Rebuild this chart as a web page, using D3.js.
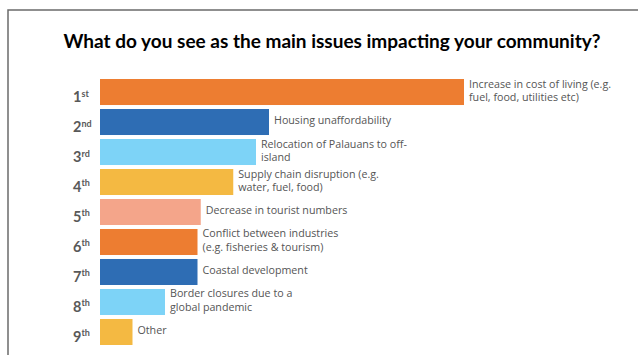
<!DOCTYPE html>
<html>
<head>
<meta charset="utf-8">
<script src="https://cdn.jsdelivr.net/npm/d3@7"></script>
<style>
  html, body { margin: 0; padding: 0; background: #fff; }
  svg { display: block; }
</style>
</head>
<body>
<svg id="chart" width="638" height="355"></svg>
<script>
const title = "What do you see as the main issues impacting your community?";
const ranks = ["1", "2", "3", "4", "5", "6", "7", "8", "9"];
const suffixes = ["st", "nd", "rd", "th", "th", "th", "th", "th", "th"];
const issues = [
  ["Increase in cost of living (e.g.", "fuel, food, utilities etc)"],
  ["Housing unaffordability"],
  ["Relocation of Palauans to off-", "island"],
  ["Supply chain disruption (e.g.", "water, fuel, food)"],
  ["Decrease in tourist numbers"],
  ["Conflict between industries", "(e.g. fisheries & tourism)"],
  ["Coastal development"],
  ["Border closures due to a", "global pandemic"],
  ["Other"]
];
const values = [112, 52, 48, 41, 31, 30, 30, 20, 10];
const colors = ["#ED7D31", "#2E6DB4", "#7DD3F7", "#F4B942", "#F4A58A", "#ED7D31", "#2E6DB4", "#7DD3F7", "#F4B942"];

const svg = d3.select("#chart");

// frame
svg.append("path")
  .attr("d", "M8,355 L8,10 L638,10")
  .attr("fill", "none")
  .attr("stroke", "#6b6b6b")
  .attr("stroke-width", 1.5);

svg.append("text")
  .attr("x", 332).attr("y", 48)
  .attr("text-anchor", "middle")
  .attr("font-family", "Lato, 'Open Sans', sans-serif")
  .attr("font-weight", "bold")
  .attr("font-size", 19)
  .attr("fill", "#000")
  .text(title);

const idx = d3.range(values.length);
const x = d3.scaleLinear().domain([0, d3.max(values)]).range([100, 464]);
const y = d3.scaleBand().domain(idx).range([77, 347]).paddingInner(0.133).paddingOuter(0.067);

const g = svg.append("g");
g.selectAll("rect").data(idx).join("rect")
  .attr("x", x(0))
  .attr("y", i => y(i))
  .attr("width", i => x(values[i]) - x(0))
  .attr("height", y.bandwidth())
  .attr("fill", i => colors[i]);

// rank labels
const rl = g.selectAll("text.rank").data(idx).join("text")
  .attr("class", "rank")
  .attr("x", 73)
  .attr("y", i => y(i) + 23)
  .attr("font-family", "Lato, 'Open Sans', sans-serif")
  .attr("font-weight", "bold")
  .attr("font-size", 14.5)
  .attr("fill", "#595959");
rl.append("tspan").text(i => ranks[i]);
rl.append("tspan").attr("dy", -5.5).attr("font-size", 9).text(i => suffixes[i]);

// issue labels (one text element per line)
const lines = [];
idx.forEach(i => issues[i].forEach((t, k) => lines.push({i, k, n: issues[i].length, t})));
g.selectAll("text.issue").data(lines).join("text")
  .attr("class", "issue")
  .attr("x", d => x(values[d.i]) + 5)
  .attr("y", d => {
    const cy = y(d.i) + y.bandwidth() / 2;
    return d.n === 1 ? cy + 2 : cy - 4.5 + d.k * 13.5;
  })
  .attr("font-family", "'Open Sans', sans-serif")
  .attr("font-size", 10.7)
  .attr("fill", "#555")
  .text(d => d.t);
</script>
</body>
</html>
